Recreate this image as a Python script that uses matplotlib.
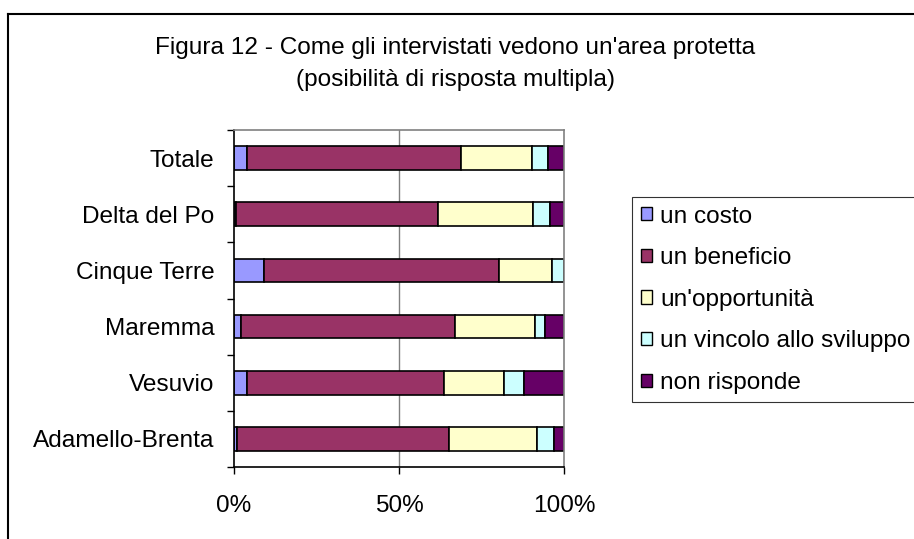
import matplotlib
matplotlib.use("Agg")
import matplotlib.pyplot as plt
import numpy as np
from matplotlib.lines import Line2D
from matplotlib.ticker import FixedLocator, PercentFormatter

plt.rcParams['font.family'] = ['Liberation Sans', 'DejaVu Sans']

categories = ["Totale", "Delta del Po", "Cinque Terre", "Maremma", "Vesuvio", "Adamello-Brenta"]
series_names = ["un costo", "un beneficio", "un'opportunità", "un vincolo allo sviluppo", "non risponde"]
un_costo = [3.9, 0.5, 9.1, 2.1, 3.9, 1.0]
un_beneficio = [64.8, 61.2, 71.2, 64.8, 59.6, 64.1]
opportunita = [21.7, 28.8, 16.1, 24.2, 18.4, 26.7]
vincolo = [4.7, 5.3, 3.6, 3.0, 5.9, 5.3]
non_risponde = [4.9, 4.2, 0.0, 5.9, 12.2, 2.9]
colors = ["#9999FF", "#993366", "#FFFFCC", "#CCFFFF", "#660066"]
xtick_vals = [0, 50, 100]

series = [un_costo, un_beneficio, opportunita, vincolo, non_risponde]

FS = 17.6

fig = plt.figure(figsize=(9.14, 5.39), dpi=100)
ax = fig.add_axes([234/914, 1-467/539, (564-234)/914, (467-130)/539])

y = np.arange(len(categories))
left = np.zeros(len(categories))
handles = []
for name, vals, c in zip(series_names, series, colors):
    vals = np.array(vals)
    b = ax.barh(y, vals, left=left, height=0.42, color=c, edgecolor='black', linewidth=1.2, label=name)
    left += vals
    handles.append(b)

ax.set_xlim(0, 100)
ax.set_ylim(len(categories)-0.5, -0.5)

ax.set_xticks(xtick_vals)
ax.xaxis.set_major_formatter(PercentFormatter(decimals=0))
ax.tick_params(axis='x', length=5, width=1, pad=15, labelsize=FS, direction='out', color='black')
ax.set_yticks(y)
ax.set_yticklabels(categories)
ax.tick_params(axis='y', which='major', length=0, pad=14, labelsize=FS)
ax.yaxis.set_minor_locator(FixedLocator(np.arange(-0.5, len(categories), 1.0)))
ax.tick_params(axis='y', which='minor', length=5, width=1, direction='out', color='black')

ax.set_axisbelow(True)
for xv in [50]:
    ax.axvline(xv, color='#808080', linewidth=1, zorder=0)

ax.spines['left'].set_color('black')
ax.spines['bottom'].set_color('black')
ax.spines['top'].set_color('#808080')
ax.spines['right'].set_color('#808080')
for s in ax.spines.values():
    s.set_linewidth(1.2)

fig.text(455/914, 1-48/539, "Figura 12 - Come gli intervistati vedono un'area protetta",
         ha='center', va='center', fontsize=FS)
fig.text(455/914, 1-80/539, "(posibilità di risposta multipla)",
         ha='center', va='center', fontsize=FS)

leg = fig.legend(handles=handles, labels=series_names, loc='upper left',
                 bbox_to_anchor=(632/914, 1-197/539), frameon=True, fancybox=False,
                 edgecolor='black', fontsize=FS, handlelength=0.45, handleheight=0.45,
                 handletextpad=0.35, labelspacing=0.8, borderpad=0.35, borderaxespad=0)
leg.get_frame().set_linewidth(0.8)
for h in leg.legend_handles:
    h.set_linewidth(1.0)

# figure border (top and left visible)
fig.add_artist(Line2D([8/914, 8/914], [0, 1-14/539], transform=fig.transFigure, color='black', linewidth=1.5))
fig.add_artist(Line2D([8/914, 1], [1-14/539, 1-14/539], transform=fig.transFigure, color='black', linewidth=1.5))

fig.savefig("out.png", dpi=100, facecolor='white')
